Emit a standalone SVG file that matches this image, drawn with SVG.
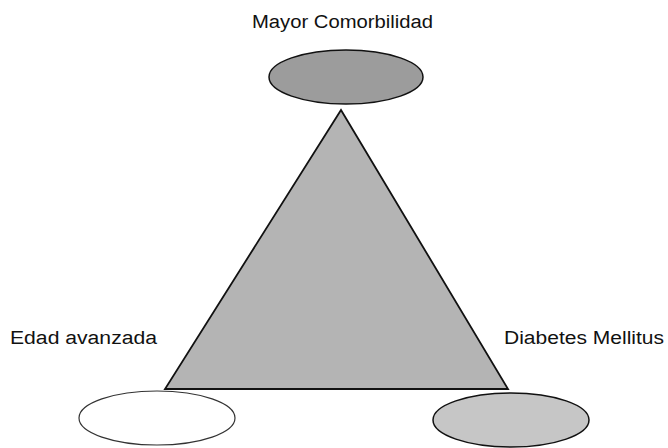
<svg xmlns="http://www.w3.org/2000/svg" width="668" height="448" viewBox="0 0 668 448">
<style>
.lbl{font-family:"Liberation Sans",Arial,sans-serif;font-size:18px;fill:#111}
.ell{stroke:#111;stroke-width:1.5}
</style>
<rect width="668" height="448" fill="#fff"/>
<g id="triangle">
<polygon points="341,110 165,389 508,389" fill="#b4b4b4" stroke="#111" stroke-width="1.8" stroke-linejoin="miter"/>
</g>
<g id="node-comorbilidad">
<ellipse class="ell" cx="346" cy="77" rx="77" ry="27" fill="#9c9c9c"/>
<text class="lbl" x="252" y="28" textLength="181" lengthAdjust="spacingAndGlyphs">Mayor Comorbilidad</text>
</g>
<g id="node-edad">
<ellipse cx="157" cy="418" rx="78" ry="27" fill="#fff" stroke="#333" stroke-width="1.2"/>
<text class="lbl" x="10" y="344" textLength="147" lengthAdjust="spacingAndGlyphs">Edad avanzada</text>
</g>
<g id="node-diabetes">
<ellipse class="ell" cx="511" cy="420" rx="78" ry="27" fill="#c6c6c6"/>
<text class="lbl" x="504" y="344" textLength="160" lengthAdjust="spacingAndGlyphs">Diabetes Mellitus</text>
</g>
</svg>
